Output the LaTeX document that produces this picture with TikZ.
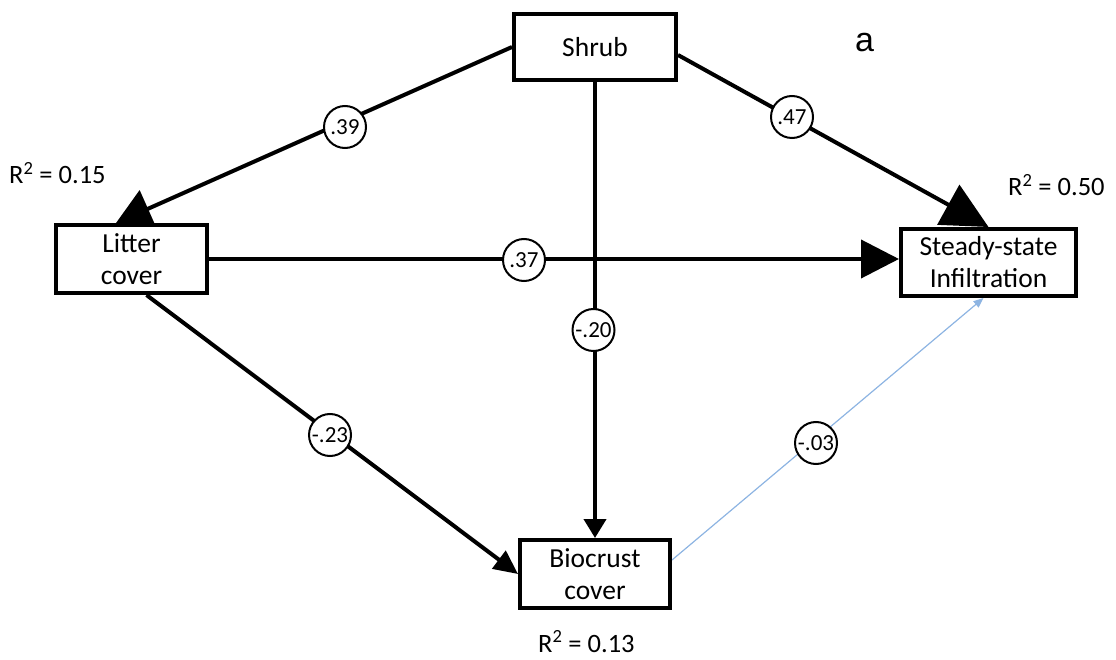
\documentclass[tikz,border=0pt]{standalone}
\usepackage{fontspec}
\setmainfont{Carlito}
\newfontfamily\arialf{Liberation Sans}
\usetikzlibrary{arrows.meta,calc}
\pgfdeclarelayer{bg}
\pgfsetlayers{bg,main}
\begin{document}
\begin{tikzpicture}[x=1pt,y=-1pt,
  box/.style={draw,line width=4pt,fill=white,align=center,inner sep=0pt,
    font=\fontsize{27.5}{32}\selectfont},
  coef/.style={circle,draw,line width=2pt,fill=white,minimum size=42pt,inner sep=0pt,
    font=\fontsize{23}{24}\selectfont},
  conn/.style={line width=4pt},
  thin/.style={line width=1.2pt,draw=lightblue},
  rlab/.style={anchor=base west,inner sep=0pt,font=\fontsize{26.5}{28}\selectfont}
]
\definecolor{lightblue}{RGB}{141,180,226}
\useasboundingbox (0,0) rectangle (1116,660);

% boxes
\node[box,minimum width=162pt,minimum height=66pt] (shrub) at (595,47) {Shrub};
\node[box,minimum width=151pt,minimum height=68pt] (litter) at (131.5,259) {Litter\\cover};
\node[box,minimum width=175pt,minimum height=67pt] (steady) at (988.5,262.5) {Steady-state\\Infiltration};
\node[box,minimum width=150pt,minimum height=68pt] (biocrust) at (595,574) {Biocrust\\cover};

% connectors
\begin{pgfonlayer}{bg}
\draw[conn,-{Triangle[length=35pt,width=40pt]}] (shrub.west) -- ($(litter.north)+(-15.5,0)$);
\draw[conn,-{Triangle[length=46pt,width=45pt]}] ($(shrub.east)+(0,8)$) -- (steady.north);
\draw[conn,-{Triangle[length=38pt,width=38pt]}] (litter.east) -- (litter.east -| steady.west);
\draw[conn,-{Triangle[length=24pt,width=22pt]}] ($(litter.south)+(15,0)$) -- (biocrust.west);
\draw[conn,-{Triangle[length=19pt,width=22pt]}] (shrub.south) -- (biocrust.north);
\draw[thin,-{Triangle[length=10pt,width=8pt]},lightblue] ($(biocrust.east)+(0,-14)$) -- ($(steady.south)+(-5,0)$);
\end{pgfonlayer}

% coefficients
\node[coef] (c39) at (345,127) {.39};
\node[coef] (c47) at (792,117) {.47};
\node[coef] (c37) at (524,260) {.37};
\node[coef] (c20) at (593.5,330) {\makebox[0pt]{-.20}};
\node[coef] (c23) at (330,435) {\makebox[0pt]{-.23}};
\node[coef] (c03) at (816,443) {\makebox[0pt]{-.03}};

% R^2 labels
\node[rlab] (r15) at (9,184) {R\textsuperscript{2} = 0.15};
\node[rlab] (r50) at (1008,196) {R\textsuperscript{2} = 0.50};
\node[rlab] (r13) at (538,652) {R\textsuperscript{2} = 0.13};

% panel letter
\node[anchor=base west,inner sep=0pt,font=\arialf\fontsize{34}{36}\selectfont] (panel) at (855,52) {a};
\end{tikzpicture}
\end{document}
